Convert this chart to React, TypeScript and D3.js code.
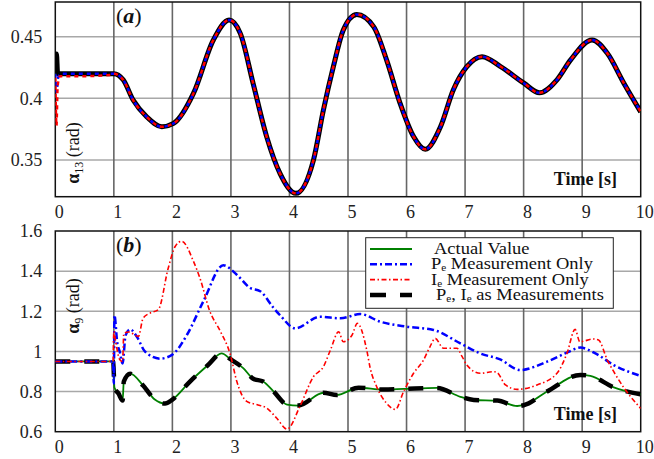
import React, { useRef, useEffect } from "react";
import * as d3 from "d3";

const W = 654;
const H = 459;

const xTicks = [0, 1, 2, 3, 4, 5, 6, 7, 8, 9, 10];
const topYTicks = [0.35, 0.4, 0.45];
const botYTicks = [0.6, 0.8, 1, 1.2, 1.4, 1.6];

const legendLabels = ["Actual Value", "Pe Measurement Only", "Ie Measurement Only", "Pe, Ie as Measurements"];

// panel (a) : alpha_13, all four curves coincide after t = 1 s
const aTime = [1.0, 1.16, 1.33, 1.56, 1.82, 2.02, 2.36, 2.7, 2.97, 3.16, 3.38, 3.61, 3.84, 4.11, 4.41, 4.58, 4.75, 4.92, 5.15, 5.44, 5.66, 5.89, 6.12, 6.32, 6.58, 6.8, 7.03, 7.29, 7.6, 8.0, 8.27, 8.57, 8.8, 9.17, 9.43, 9.71, 10];
const aValue = [0.42, 0.415, 0.3986, 0.3851, 0.377, 0.3797, 0.404, 0.4473, 0.4635, 0.4527, 0.412, 0.369, 0.339, 0.323, 0.35, 0.3906, 0.4257, 0.4554, 0.468, 0.458, 0.431, 0.396, 0.369, 0.3587, 0.377, 0.407, 0.4257, 0.4338, 0.426, 0.4125, 0.4045, 0.415, 0.431, 0.4473, 0.4365, 0.4125, 0.389];
// start-up transients (0 - 1 s)
const aActualStartT = [0, 0.5, 0.95];
const aActualStartV = [0.42, 0.42, 0.42];
const aPeStartT = [0, 0.02, 0.05, 0.1, 0.95];
const aPeStartV = [0.42, 0.405, 0.417, 0.42, 0.42];
const aIeStartT = [0, 0.02, 0.04, 0.08, 0.5, 0.95];
const aIeStartV = [0.42, 0.378, 0.41, 0.418, 0.418, 0.419];
const aBothStartT = [0, 0.02, 0.04, 0.08, 0.95];
const aBothStartV = [0.43, 0.436, 0.42, 0.42, 0.42];

// panel (b) : alpha_9
const bActualT = [0, 0.5, 0.99, 1.01, 1.08, 1.15, 1.17, 1.28, 1.5, 1.7, 1.875, 2.0, 2.3, 2.6, 2.84, 3.0, 3.21, 3.38, 3.55, 3.73, 3.96, 4.15, 4.58, 4.81, 5.18, 5.6, 5.95, 6.52, 6.92, 7.15, 7.55, 7.89, 8.0, 8.4, 8.97, 9.14, 9.54, 10];
const bActualV = [0.95, 0.95, 0.95, 0.82, 0.79, 0.755, 0.85, 0.889, 0.83, 0.76, 0.74, 0.76, 0.85, 0.93, 0.99, 0.96, 0.917, 0.864, 0.85, 0.8, 0.735, 0.73, 0.794, 0.783, 0.819, 0.81, 0.813, 0.818, 0.774, 0.758, 0.755, 0.728, 0.732, 0.8, 0.883, 0.878, 0.821, 0.786];
const bPeT = [0, 0.5, 0.985, 1.0, 1.01, 1.06, 1.1, 1.15, 1.2, 1.28, 1.4, 1.53, 1.79, 2.0, 2.25, 2.53, 2.87, 3.1, 3.33, 3.5, 3.73, 3.84, 4.1, 4.52, 4.87, 5.21, 5.55, 6.01, 6.46, 6.92, 7.26, 7.6, 7.94, 8.4, 8.74, 8.97, 9.25, 9.54, 10];
const bPeV = [0.95, 0.95, 0.95, 0.84, 1.18, 1.04, 1.0, 0.94, 1.08, 1.11, 1.07, 1.0, 0.964, 0.984, 1.083, 1.25, 1.429, 1.382, 1.316, 1.3, 1.216, 1.18, 1.115, 1.173, 1.165, 1.186, 1.148, 1.123, 1.107, 1.04, 0.99, 0.96, 0.907, 0.949, 0.994, 1.019, 0.986, 0.932, 0.878];
const bIeT = [0, 0.5, 0.985, 1.0, 1.03, 1.1, 1.15, 1.17, 1.25, 1.42, 1.5, 1.62, 1.76, 1.93, 2.05, 2.16, 2.36, 2.47, 2.64, 2.82, 2.99, 3.1, 3.27, 3.44, 3.61, 3.78, 3.96, 4.18, 4.41, 4.58, 4.7, 4.84, 4.92, 5.07, 5.16, 5.32, 5.38, 5.49, 5.66, 5.81, 5.95, 6.12, 6.29, 6.4, 6.49, 6.63, 6.86, 6.95, 7.03, 7.26, 7.49, 7.55, 7.69, 7.89, 8.23, 8.57, 8.74, 8.88, 8.96, 9.19, 9.28, 9.43, 9.54, 9.72, 10];
const bIeV = [0.95, 0.95, 0.95, 1.1, 1.05, 0.96, 0.95, 1.09, 1.097, 1.075, 1.166, 1.191, 1.208, 1.416, 1.524, 1.549, 1.449, 1.366, 1.2, 1.1, 0.984, 0.851, 0.751, 0.735, 0.718, 0.668, 0.613, 0.727, 0.874, 0.924, 1.007, 1.098, 1.048, 1.082, 1.14, 1.007, 0.916, 0.824, 0.741, 0.711, 0.8, 0.891, 0.957, 1.023, 1.065, 1.016, 1.016, 0.974, 0.932, 0.891, 0.899, 0.894, 0.833, 0.811, 0.833, 0.891, 0.99, 1.11, 1.048, 1.062, 1.057, 0.957, 0.899, 0.816, 0.716];

const GREEN = "#008000";
const BLUE = "#0000ff";
const RED = "#ff0000";
const FONT = "'Liberation Serif', 'Times New Roman', serif";

function App() {
  const svgRef = useRef<SVGSVGElement>(null);

  useEffect(() => {
    const svg = d3.select(svgRef.current);
    svg.selectAll("*").remove();

    const left = 55.3;
    const right = 640.7;
    const x = d3.scaleLinear().domain([0, 10]).range([left, right]);

    const panels = [
      { id: "a", top: 2, bottom: 196.7, domain: [0.3203, 0.4781], ticks: topYTicks, fmt: (d: number) => String(d) },
      { id: "b", top: 231, bottom: 431.7, domain: [0.6, 1.6], ticks: botYTicks, fmt: (d: number) => (d === 1 ? "1" : d3.format(".1f")(d)) },
    ];

    panels.forEach((p) => {
      const y = d3.scaleLinear().domain(p.domain).range([p.bottom, p.top]);
      const g = svg.append("g");

      g.append("clipPath").attr("id", "clip-" + p.id)
        .append("rect").attr("x", left).attr("y", p.top).attr("width", right - left).attr("height", p.bottom - p.top);

      // horizontal grid
      g.selectAll(".hgrid").data(p.ticks.filter((t) => t > p.domain[0] + 1e-6 && t < p.domain[1] - 1e-6)).join("line")
        .attr("x1", left).attr("x2", right).attr("y1", (d) => y(d)).attr("y2", (d) => y(d))
        .attr("stroke", "#a8a8a8").attr("stroke-width", 1.5);
      // vertical grid
      g.selectAll(".vgrid").data(xTicks.slice(1, -1)).join("line")
        .attr("x1", (d) => x(d)).attr("x2", (d) => x(d)).attr("y1", p.top).attr("y2", p.bottom)
        .attr("stroke", "#666").attr("stroke-width", 1.6);

      // axes
      const yAxis = d3.axisLeft(y).tickValues(p.ticks).tickSize(0).tickPadding(13).tickFormat(p.fmt as any);
      const ya = g.append("g").attr("transform", `translate(${left},0)`).call(yAxis);
      ya.attr("font-family", FONT).attr("font-size", 18);
      ya.select(".domain").remove();
      ya.selectAll("text").attr("fill", "#222");

      const xAxis = d3.axisBottom(x).tickValues(xTicks).tickSize(0).tickPadding(9).tickFormat(d3.format("d") as any);
      const xa = g.append("g").attr("transform", `translate(3.5,${p.bottom})`).call(xAxis);
      xa.attr("font-family", FONT).attr("font-size", 18);
      xa.select(".domain").remove();
      xa.selectAll("text").attr("fill", "#222");

      // frame
      g.append("rect").attr("x", left).attr("y", p.top).attr("width", right - left).attr("height", p.bottom - p.top)
        .attr("fill", "none").attr("stroke", "#111").attr("stroke-width", 1.5);

      const line = d3.line<[number, number]>().x((d) => x(d[0])).y((d) => y(d[1])).curve(d3.curveMonotoneX);
      const zip = (t: number[], v: number[]) => t.map((tt, i) => [tt, v[i]] as [number, number]);
      const plot = g.append("g").attr("clip-path", `url(#clip-${p.id})`);

      if (p.id === "a") {
        const rest = zip(aTime, aValue);
        plot.append("path").attr("d", line(zip(aActualStartT, aActualStartV).concat(rest)))
          .attr("fill", "none").attr("stroke", GREEN).attr("stroke-width", 2);
        plot.append("path").attr("d", line(zip(aBothStartT, aBothStartV).concat(rest)))
          .attr("fill", "none").attr("stroke", "#000").attr("stroke-width", 5);
        plot.append("path").attr("d", line(zip(aPeStartT, aPeStartV).concat(rest)))
          .attr("fill", "none").attr("stroke", BLUE).attr("stroke-width", 2.5).attr("stroke-dasharray", "4,4");
        plot.append("path").attr("d", line(zip(aIeStartT, aIeStartV).concat(rest)))
          .attr("fill", "none").attr("stroke", RED).attr("stroke-width", 2.5).attr("stroke-dasharray", "4,4").attr("stroke-dashoffset", 4);
      } else {
        plot.append("path").attr("d", line(zip(bActualT, bActualV)))
          .attr("fill", "none").attr("stroke", GREEN).attr("stroke-width", 1.8);
        plot.append("path").attr("d", line(zip(bActualT, bActualV)))
          .attr("fill", "none").attr("stroke", "#000").attr("stroke-width", 4.5).attr("stroke-dasharray", "15,14");
        plot.append("path").attr("d", line(zip(bPeT, bPeV)))
          .attr("fill", "none").attr("stroke", BLUE).attr("stroke-width", 2.5).attr("stroke-dasharray", "7,3,2,3");
        plot.append("path").attr("d", line(zip(bIeT, bIeV)))
          .attr("fill", "none").attr("stroke", RED).attr("stroke-width", 1.6).attr("stroke-dasharray", "5,2.5,1.5,2.5");
      }

      // panel tag
      const tag = g.append("text").attr("x", 116).attr("y", p.top + 21).attr("font-family", FONT).attr("font-size", 22).attr("fill", "#111");
      tag.append("tspan").text("(");
      tag.append("tspan").attr("font-weight", "bold").attr("font-style", "italic").text(p.id);
      tag.append("tspan").text(")");

      // y label
      const cy = p.id === "a" ? 153 : 306;
      const yl = g.append("text").attr("transform", `translate(79,${cy}) rotate(-90)`).attr("text-anchor", "middle")
        .attr("font-family", FONT).attr("font-size", 18).attr("fill", "#111");
      yl.append("tspan").attr("font-weight", "bold").text("α");
      yl.append("tspan").attr("font-size", 12).attr("dy", 4).text(p.id === "a" ? "13" : "9");
      yl.append("tspan").attr("dy", -4).text(" (rad)");

      // time label
      g.append("text").attr("x", 617).attr("y", p.bottom - 12).attr("text-anchor", "end")
        .attr("font-family", FONT).attr("font-size", 18).attr("font-weight", "bold").attr("fill", "#111").text("Time [s]");

      if (p.id === "b") {
        const lg = g.append("g");
        lg.append("rect").attr("x", 365.7).attr("y", 237.7).attr("width", 247.6).attr("height", 70.6)
          .attr("fill", "#fff").attr("stroke", "#222").attr("stroke-width", 1);
        const styles = [
          { stroke: GREEN, w: 1.8, dash: null },
          { stroke: BLUE, w: 2.5, dash: "7,3,2,3" },
          { stroke: RED, w: 1.6, dash: "5,2.5,1.5,2.5" },
          { stroke: "#000", w: 4.5, dash: "16,14" },
        ];
        legendLabels.forEach((lab, i) => {
          const ry = 249 + i * 15.3;
          lg.append("line").attr("x1", 370).attr("x2", 412).attr("y1", ry).attr("y2", ry)
            .attr("stroke", styles[i].stroke).attr("stroke-width", styles[i].w)
            .attr("stroke-dasharray", styles[i].dash as any);
          const tx = i === 0 ? 434 : i === 3 ? 436 : 431;
          const t = lg.append("text").attr("transform", `translate(${tx},${ry + 5}) scale(1.12,1)`).attr("font-family", FONT)
            .attr("font-size", 16.5).attr("fill", "#111");
          if (i === 0) {
            t.text(lab);
          } else if (i === 3) {
            t.append("tspan").text("P");
            t.append("tspan").attr("font-size", 10).attr("dy", 2).text("e");
            t.append("tspan").attr("dy", -2).text(", I");
            t.append("tspan").attr("font-size", 10).attr("dy", 2).text("e");
            t.append("tspan").attr("dy", -2).text(" as Measurements");
          } else {
            t.append("tspan").text(lab.slice(0, 1));
            t.append("tspan").attr("font-size", 10).attr("dy", 2).text("e");
            t.append("tspan").attr("dy", -2).text(lab.slice(2));
          }
        });
      }
    });
  }, []);

  return (
    <svg ref={svgRef} width={W} height={H} style={{ position: "absolute", left: 0, top: 0, background: "#fff" }} />
  );
}

export default App;
